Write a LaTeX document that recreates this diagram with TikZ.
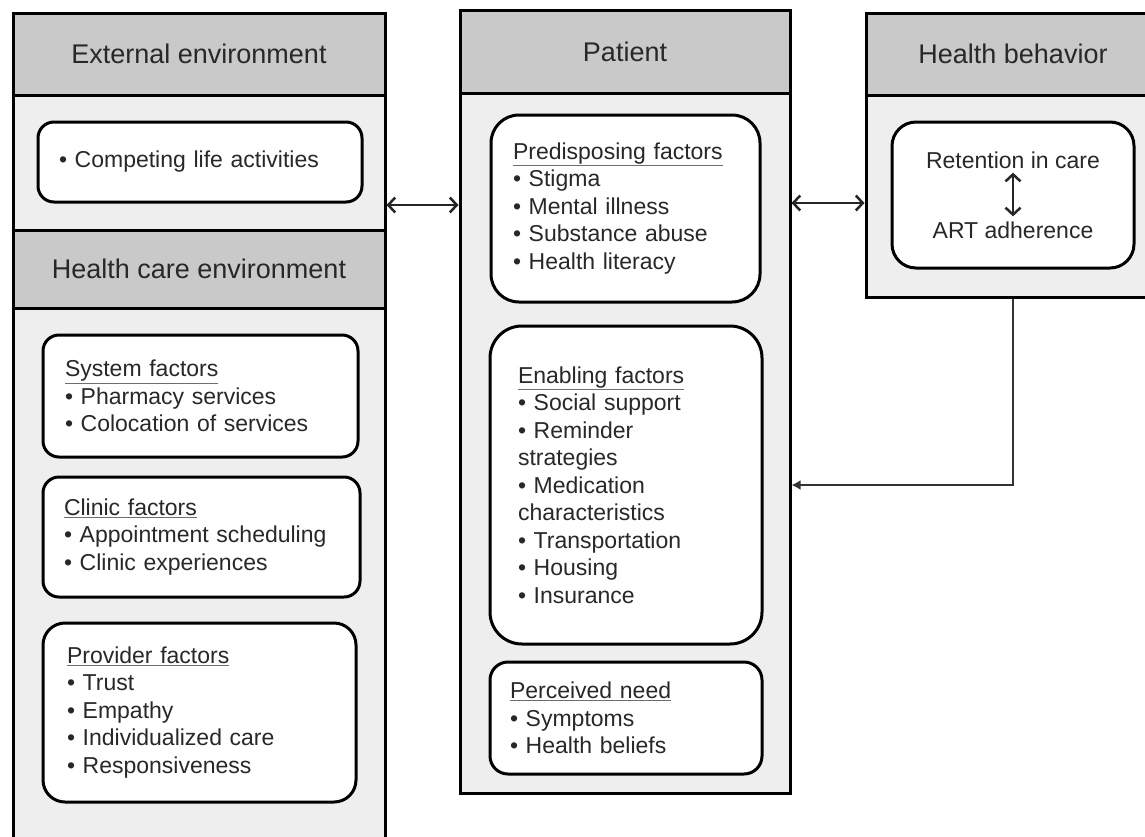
\documentclass[tikz,border=0pt]{standalone}
\usepackage{fontspec}
\setmainfont{Liberation Sans}
\usetikzlibrary{arrows.meta,calc}
\definecolor{hdr}{RGB}{201,201,201}
\definecolor{bod}{RGB}{238,238,238}
\definecolor{txt}{RGB}{40,40,40}
\definecolor{uln}{RGB}{110,110,110}
\newcommand\subhd[1]{{\color{uln}\underline{\color{txt}#1}}}
\begin{document}
\begin{tikzpicture}[x=1pt,y=-1pt,
  hdrbox/.style={draw=black,line width=3pt,fill=hdr,inner sep=0pt,
    font=\fontsize{27}{31}\selectfont,text=txt},
  bodbox/.style={draw=black,line width=3pt,fill=bod,inner sep=0pt},
  itembox/.style={draw=black,line width=3pt,fill=white,rounded corners=16pt,
    align=left,inner ysep=0pt,font=\fontsize{23}{27.5}\selectfont,text=txt},
  plain/.style={inner sep=0pt,font=\fontsize{23}{27.5}\selectfont,text=txt},
  biarrow/.style={line width=2.5pt,draw=black!85,
    {Straight Barb[length=7pt,width=15pt,line width=2.5pt]}-{Straight Barb[length=7pt,width=15pt,line width=2.5pt]}},
  fbarrow/.style={line width=2.5pt,draw=black!80,-{Latex[length=9pt,width=10pt]}}]
\useasboundingbox (0,0) rectangle (1145,836);
\clip (0,0) rectangle (1145,836);
\fill[white] (0,0) rectangle (1145,836);
% ---- left column
\node[bodbox,minimum width=372pt,minimum height=562pt] (hceb) at (199,589) {};
\node[bodbox,minimum width=372pt,minimum height=135pt] (extb) at (199,162.5) {};
\node[hdrbox,minimum width=372pt,minimum height=82pt] (exth) at (199,54) {External environment};
\node[hdrbox,minimum width=372pt,minimum height=78pt] (hceh) at (199,269) {Health care environment};
\node[itembox,minimum width=324pt,minimum height=80pt,inner xsep=21pt,text width=282pt] (comp) at (200,162) {• Competing life activities};
\node[itembox,minimum width=315pt,minimum height=122pt,inner xsep=22pt,text width=271pt] (sys) at (200.5,396)
  {\subhd{System factors}\\• Pharmacy services\\• Colocation of services};
\node[itembox,minimum width=317pt,minimum height=120pt,inner xsep=21pt,text width=275pt] (clin) at (201.5,537)
  {\subhd{Clinic factors}\\• Appointment scheduling\\• Clinic experiences};
\node[itembox,minimum width=313pt,minimum height=179pt,inner xsep=24pt,text width=265pt,rounded corners=22pt] (prov) at (199.5,712.5)
  {\subhd{Provider factors}\\• Trust\\• Empathy\\• Individualized care\\• Responsiveness};
% ---- patient column
\node[bodbox,minimum width=330pt,minimum height=700pt] (patb) at (625,443) {};
\node[hdrbox,minimum width=330pt,minimum height=83pt] (path) at (625,51.5) {Patient};
\node[itembox,minimum width=269pt,minimum height=187pt,inner xsep=22pt,text width=225pt,rounded corners=28pt] (pred) at (625.5,208.5)
  {\subhd{Predisposing factors}\\• Stigma\\• Mental illness\\• Substance abuse\\• Health literacy};
\node[itembox,minimum width=272pt,minimum height=318pt,inner xsep=28pt,text width=216pt,rounded corners=32pt] (enab) at (626,485)
  {\subhd{Enabling factors}\\• Social support\\• Reminder\\strategies\\• Medication\\characteristics\\• Transportation\\• Housing\\• Insurance};
\node[itembox,minimum width=272pt,minimum height=112pt,inner xsep=20pt,text width=232pt,rounded corners=18pt] (perc) at (626,718)
  {\subhd{Perceived need}\\• Symptoms\\• Health beliefs};
% ---- health behavior column
\node[bodbox,minimum width=294pt,minimum height=202pt] (hbb) at (1013,196) {};
\node[hdrbox,minimum width=294pt,minimum height=82pt] (hbh) at (1013,54) {Health behavior};
\node[itembox,minimum width=242pt,minimum height=146pt,inner xsep=0pt,rounded corners=24pt] (retbox) at (1013,195) {};
\node[plain] (ret) at (1013,160) {Retention in care};
\node[plain] (art) at (1013,230) {ART adherence};
% ---- connectors
\draw[biarrow,shorten <=4pt,shorten >=5pt] (ret.south) -- (art.north);
\draw[biarrow] ([yshift=-42.5pt]extb.east) coordinate (a1) -- (patb.west |- a1);
\path (patb.east |- hbb.west) ++(0,7) coordinate (a2);
\draw[biarrow] (a2) -- (hbb.west |- a2);
\draw[fbarrow] (hbb.south) |- ([yshift=-42pt]patb.east);
\end{tikzpicture}
\end{document}
